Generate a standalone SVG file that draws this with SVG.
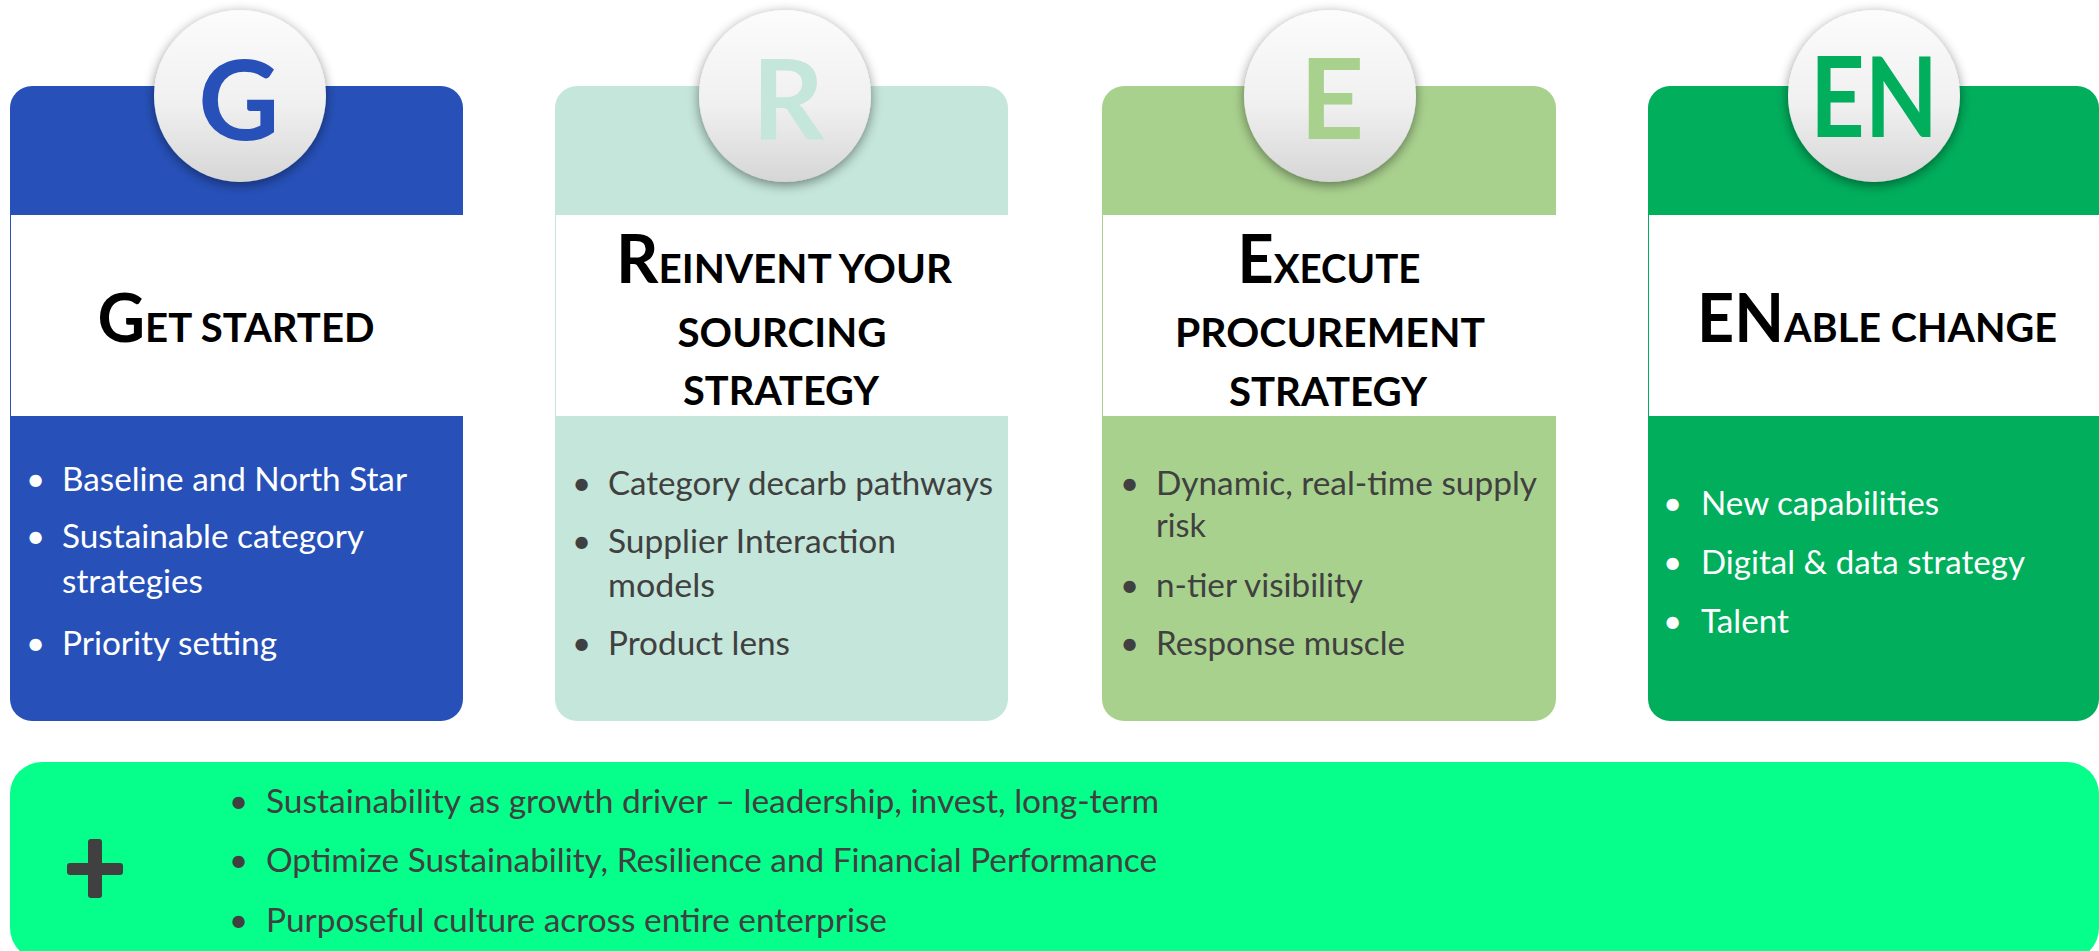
<svg xmlns="http://www.w3.org/2000/svg" width="2099" height="951" viewBox="0 0 2099 951">
<defs>
<linearGradient id="ball" x1="0" y1="0" x2="0" y2="1">
<stop offset="0" stop-color="#FCFCFC"/>
<stop offset="0.55" stop-color="#F0F0F0"/>
<stop offset="1" stop-color="#D6D6D6"/>
</linearGradient>
<filter id="sh" x="-30%" y="-30%" width="160%" height="160%">
<feDropShadow dx="0" dy="3" stdDeviation="6" flood-color="#000" flood-opacity="0.45"/>
</filter>
<style>
.title{font-family:Lato,"Liberation Sans",sans-serif;font-weight:700;fill:#000;text-anchor:middle}
.big{font-size:67px}
.sm{font-size:41px}
.letter{font-family:Lato,"Liberation Sans",sans-serif;font-weight:700;font-size:112px;text-anchor:middle}
.b{font-family:Lato,"Liberation Sans",sans-serif;font-size:33px}
.w{fill:#FFFFFF}
.d{fill:#404040}
.ball{fill:url(#ball);filter:url(#sh)}
</style>
</defs>
<rect width="2099" height="951" fill="#FFFFFF"/>

<g id="node-g">
<rect x="10" y="86" width="453" height="635" rx="22" fill="#2751B9"/>
<rect x="11" y="215" width="452" height="201" fill="#FFFFFF"/>
<circle class="ball" cx="240" cy="96" r="86"/>
<text class="letter" x="239" y="140" fill="#2751B9">G</text>
<text class="title" x="236" y="342" textLength="277" lengthAdjust="spacingAndGlyphs"><tspan class="big">G</tspan><tspan class="sm">ET STARTED</tspan></text>
<text class="b w" x="26" y="491">•</text><text class="b w" x="62" y="491" textLength="345" lengthAdjust="spacingAndGlyphs">Baseline and North Star</text>
<text class="b w" x="26" y="548">•</text><text class="b w" x="62" y="548" textLength="302" lengthAdjust="spacingAndGlyphs">Sustainable category</text>
<text class="b w" x="62" y="593" textLength="141" lengthAdjust="spacingAndGlyphs">strategies</text>
<text class="b w" x="26" y="655">•</text><text class="b w" x="62" y="655" textLength="215" lengthAdjust="spacingAndGlyphs">Priority setting</text>
</g>

<g id="node-r">
<rect x="555" y="86" width="453" height="635" rx="22" fill="#C5E6DA"/>
<rect x="556" y="215" width="452" height="201" fill="#FFFFFF"/>
<circle class="ball" cx="785" cy="96" r="86"/>
<text class="letter" x="788" y="139" fill="#C5E6DA">R</text>
<text class="title" x="784" y="283" textLength="336" lengthAdjust="spacingAndGlyphs"><tspan class="big">R</tspan><tspan class="sm">EINVENT YOUR</tspan></text>
<text class="title sm" x="782" y="347" textLength="209" lengthAdjust="spacingAndGlyphs">SOURCING</text>
<text class="title sm" x="781" y="405" textLength="196" lengthAdjust="spacingAndGlyphs">STRATEGY</text>
<text class="b d" x="572" y="495">•</text><text class="b d" x="608" y="495" textLength="385" lengthAdjust="spacingAndGlyphs">Category decarb pathways</text>
<text class="b d" x="572" y="553">•</text><text class="b d" x="608" y="553" textLength="288" lengthAdjust="spacingAndGlyphs">Supplier Interaction</text>
<text class="b d" x="608" y="597" textLength="107" lengthAdjust="spacingAndGlyphs">models</text>
<text class="b d" x="572" y="655">•</text><text class="b d" x="608" y="655" textLength="182" lengthAdjust="spacingAndGlyphs">Product lens</text>
</g>

<g id="node-e">
<rect x="1102" y="86" width="454" height="635" rx="22" fill="#A9D18E"/>
<rect x="1103" y="215" width="453" height="201" fill="#FFFFFF"/>
<circle class="ball" cx="1330" cy="96" r="86"/>
<text class="letter" x="1332" y="139" fill="#A9D18E">E</text>
<text class="title" x="1329" y="283" textLength="183" lengthAdjust="spacingAndGlyphs"><tspan class="big">E</tspan><tspan class="sm">XECUTE</tspan></text>
<text class="title sm" x="1330" y="347" textLength="310" lengthAdjust="spacingAndGlyphs">PROCUREMENT</text>
<text class="title sm" x="1328" y="406" textLength="198" lengthAdjust="spacingAndGlyphs">STRATEGY</text>
<text class="b d" x="1120" y="495">•</text><text class="b d" x="1156" y="495" textLength="381" lengthAdjust="spacingAndGlyphs">Dynamic, real-time supply</text>
<text class="b d" x="1156" y="537" textLength="50" lengthAdjust="spacingAndGlyphs">risk</text>
<text class="b d" x="1120" y="597">•</text><text class="b d" x="1156" y="597" textLength="207" lengthAdjust="spacingAndGlyphs">n-tier visibility</text>
<text class="b d" x="1120" y="655">•</text><text class="b d" x="1156" y="655" textLength="249" lengthAdjust="spacingAndGlyphs">Response muscle</text>
</g>

<g id="node-en">
<rect x="1648" y="86" width="451" height="635" rx="22" fill="#00AE5C"/>
<rect x="1649" y="215" width="450" height="201" fill="#FFFFFF"/>
<circle class="ball" cx="1874" cy="96" r="86"/>
<text class="letter" x="1874" y="137" fill="#00AE5C" textLength="128" lengthAdjust="spacingAndGlyphs">EN</text>
<text class="title" x="1877" y="342" textLength="360" lengthAdjust="spacingAndGlyphs"><tspan class="big">EN</tspan><tspan class="sm">ABLE CHANGE</tspan></text>
<text class="b w" x="1663" y="515">•</text><text class="b w" x="1701" y="515" textLength="238" lengthAdjust="spacingAndGlyphs">New capabilities</text>
<text class="b w" x="1663" y="574">•</text><text class="b w" x="1701" y="574" textLength="324" lengthAdjust="spacingAndGlyphs">Digital &amp; data strategy</text>
<text class="b w" x="1663" y="633">•</text><text class="b w" x="1701" y="633" textLength="88" lengthAdjust="spacingAndGlyphs">Talent</text>
</g>

<g id="node-plus">
<rect x="10" y="762" width="2089" height="198" rx="32" fill="#05FF8A"/>
<rect x="67" y="863" width="56" height="12" rx="3" fill="#404040"/>
<rect x="88" y="839" width="14" height="59" rx="3" fill="#404040"/>
<text class="b d" x="229" y="813">•</text><text class="b d" x="266" y="813" textLength="893" lengthAdjust="spacingAndGlyphs">Sustainability as growth driver – leadership, invest, long-term</text>
<text class="b d" x="229" y="872">•</text><text class="b d" x="266" y="872" textLength="891" lengthAdjust="spacingAndGlyphs">Optimize Sustainability, Resilience and Financial Performance</text>
<text class="b d" x="229" y="932">•</text><text class="b d" x="266" y="932" textLength="621" lengthAdjust="spacingAndGlyphs">Purposeful culture across entire enterprise</text>
</g>

<g id="connectors"/>
</svg>
